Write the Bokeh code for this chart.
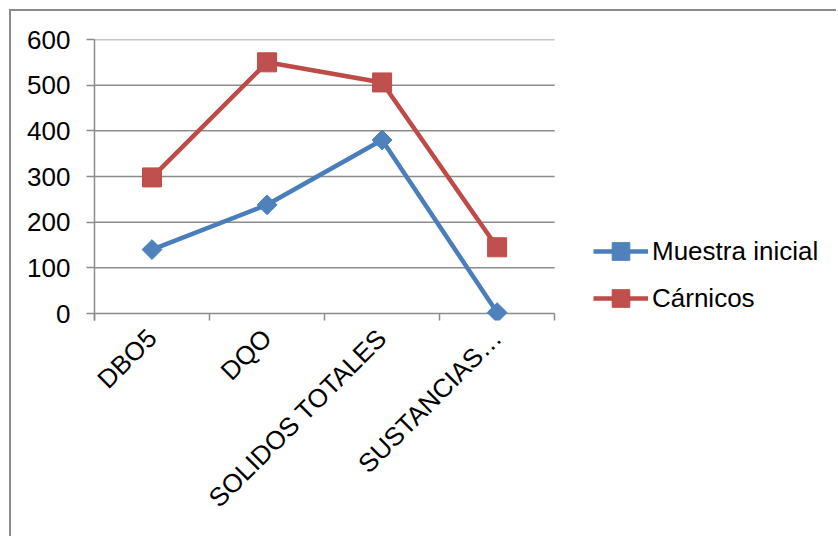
import numpy as np
from math import pi
from bokeh.plotting import figure
from bokeh.models import Range1d, FixedTicker, Legend, LegendItem, ColumnDataSource
from bokeh.embed import file_html
from bokeh.resources import INLINE

# Parameters measured for each sample
categories = ["DBO5", "DQO", "SOLIDOS TOTALES", "SUSTANCIAS…"]
muestra_inicial = [140, 238, 380, 2]
carnicos = [298, 550, 506, 145]
y_ticks = [0, 100, 200, 300, 400, 500, 600]

FONT = "Liberation Sans"
GRID = "#8c8c8c"
BLUE_LINE, BLUE_FILL = "#4A7EBB", "#4F81BD"
RED_LINE, RED_FILL = "#BE4B48", "#C0504D"

n = len(categories)
x_pos = np.arange(n) + 0.5

# The frame runs on to the right edge so the legend can sit inside it;
# the x axis and the horizontal rules only span the categories.
p = figure(
    width=827, height=527,
    x_range=Range1d(0, n + 2.45), y_range=Range1d(-15.3, 600),
    output_backend="svg", toolbar_location=None,
    min_border_left=83, min_border_right=2,
    min_border_top=28, min_border_bottom=218,
    styles={"margin-left": "9px", "margin-top": "9px",
            "border-left": "2px solid #8a8a8a", "border-top": "2px solid #8a8a8a"},
)
p.outline_line_color = None
p.background_fill_color = "white"
p.border_fill_color = "white"

# y axis
p.yaxis.ticker = FixedTicker(ticks=y_ticks)
p.yaxis.axis_line_color = GRID
p.yaxis.axis_line_width = 1.5
p.yaxis.major_tick_line_color = GRID
p.yaxis.major_tick_line_width = 1.5
p.yaxis.major_tick_out = 8
p.yaxis.major_tick_in = 0
p.yaxis.minor_tick_line_color = None
p.yaxis.major_label_text_font = FONT
p.yaxis.major_label_text_font_size = "26px"
p.yaxis.major_label_text_color = "black"
p.yaxis.major_label_standoff = 16

# x axis: labels at category centres, ticks at category boundaries
# (ticks point up from the frame edge so they hang below the zero rule)
p.xaxis.bounds = (0, n)
p.xaxis.ticker = FixedTicker(ticks=list(x_pos), minor_ticks=list(range(n + 1)))
p.xaxis.major_label_overrides = {float(x): c for x, c in zip(x_pos, categories)}
p.xaxis.axis_line_color = None  # the rule at zero serves as the axis line
p.xaxis.major_tick_line_color = None
p.xaxis.minor_tick_line_color = GRID
p.xaxis.minor_tick_line_width = 1.5
p.xaxis.minor_tick_out = 0
p.xaxis.minor_tick_in = 7
p.xaxis.major_label_orientation = pi / 4
p.xaxis.major_label_text_font = FONT
p.xaxis.major_label_text_font_size = "26px"
p.xaxis.major_label_text_color = "black"
p.xaxis.major_label_standoff = 7

p.xgrid.grid_line_color = None
p.ygrid.grid_line_color = None

# horizontal rules across the category span
p.segment(x0=0, x1=n, y0=y_ticks, y1=y_ticks, line_color=GRID, line_width=1.5)

src = ColumnDataSource(dict(x=x_pos, m=muestra_inicial, c=carnicos))

l1 = p.line("x", "m", source=src, line_color=BLUE_LINE, line_width=4.5)
m1 = p.scatter("x", "m", source=src, marker="square", angle=pi / 4, size=14,
               fill_color=BLUE_FILL, line_color=BLUE_LINE, line_width=1)
l2 = p.line("x", "c", source=src, line_color=RED_LINE, line_width=4.5)
m2 = p.scatter("x", "c", source=src, marker="square", size=19,
               fill_color=RED_FILL, line_color=RED_LINE, line_width=1)

legend = Legend(
    items=[LegendItem(label="Muestra inicial", renderers=[l1, m1]),
           LegendItem(label="Cárnicos", renderers=[l2, m2])],
    location=(499, 0),
    label_text_font=FONT, label_text_font_size="26px", label_text_color="black",
    glyph_width=55, glyph_height=44, label_height=44, label_standoff=4,
    spacing=3, padding=0, margin=0,
    border_line_color=None, background_fill_alpha=0,
)
p.add_layout(legend)

open("out.html", "w").write(file_html(p, INLINE))
